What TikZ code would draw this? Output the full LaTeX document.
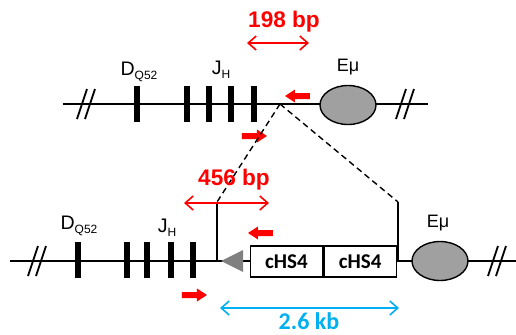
\documentclass[tikz,border=0pt]{standalone}
\usepackage{fontspec}
\setmainfont{Liberation Sans}
\newfontfamily\calibfont{Carlito}
\usetikzlibrary{shapes.geometric,arrows.meta,positioning}
\definecolor{PrimerRed}{RGB}{255,0,0}
\definecolor{SizeCyan}{RGB}{0,176,240}
\definecolor{EnhGray}{RGB}{160,160,160}
\definecolor{InsGray}{RGB}{128,128,128}
% gene segment label with subscript
\newcommand{\seglab}[2]{{\fontsize{9.8}{10}\selectfont #1}\raisebox{-1.8pt}{\fontsize{6}{6}\selectfont #2}}
% break mark on the backbone
\newcommand{\brkmark}[2]{\draw[line width=0.9pt] (#1-9,#2+15) -- (#1+1,#2-15) (#1-1,#2+15) -- (#1+9,#2-15);}
% primer arrow: tip x, tip y, direction (1 right, -1 left)
\newcommand{\primer}[3]{\fill[PrimerRed] (#1,#2) -- ++({-(#3)*10},-6.5) -- ++(0,3.5)
  -- ++({-(#3)*15},0) -- ++(0,6) -- ++({(#3)*15},0) -- ++(0,3.5) -- cycle;}

\begin{document}
\begin{tikzpicture}[x=0.5pt,y=-0.5pt,
  backbone/.style={line width=1.4pt},
  genetick/.style={fill=black,inner sep=0pt,minimum width=3pt,minimum height=18pt},
  enh/.style={ellipse,draw,fill=EnhGray,line width=0.7pt,minimum width=28pt,
              minimum height=19.5pt,inner sep=0pt},
  enhlab/.style={font=\fontsize{9}{10}\selectfont},
  sizearrow/.style={PrimerRed,line width=0.8pt,
                    {Straight Barb[length=4pt,width=7pt]}-{Straight Barb[length=4pt,width=7pt]}},
  sizelab/.style={text=PrimerRed,font=\fontsize{11.3}{12}\selectfont\bfseries},
  hsbox/.style={draw,fill=white,line width=0.6pt,minimum width=36.25pt,minimum height=15.5pt,
                inner sep=0pt,font=\calibfont\fontsize{10.5}{11}\selectfont\bfseries},
  joint/.style={line width=0.7pt},
  junction/.style={line width=0.7pt,dash pattern=on 3pt off 2pt},
]
\useasboundingbox (0,0) rectangle (516,334);

% top: endogenous locus
\coordinate (topL) at (63,104);
\coordinate (topR) at (428,104);
\coordinate (apex) at (280,104);
\draw[backbone] (topL) -- (topR);
\brkmark{86}{104}
\brkmark{405}{104}
\node[genetick] (dq) at (137,104) {};
\foreach \x [count=\i] in {187,209,231,254}
  \node[genetick] (jh\i) at (\x,104) {};
\node (dqlab) at (139,72) {\seglab{D}{Q52}};
\node (jhlab) at (221,70) {\seglab{J}{H}};
\node[enh] (emu) at (348,105) {};
\node[enhlab] (emulab) at (348,67) {Eμ};
\primer{285}{96}{-1}
\primer{267}{136}{1}
\coordinate (s1a) at (247,43);
\coordinate (s1b) at (309,43);
\draw[sizearrow] (s1a) -- (s1b);
\node[sizelab] (s1lab) at (284,22) {198 bp};

% bottom: insulated allele
\coordinate (botL) at (10,261);
\coordinate (botR) at (516,261);
\draw[backbone] (botL) -- (botR);
\brkmark{37}{261}
\brkmark{497}{261}
\node[genetick] (dqb) at (78,260) {};
\foreach \x [count=\i] in {127,147,171,193}
  \node[genetick] (jhb\i) at (\x,260) {};
\node (dqblab) at (79,226) {\seglab{D}{Q52}};
\node (jhblab) at (167,228) {\seglab{J}{H}};
\node[isosceles triangle,fill=InsGray,inner sep=0pt,minimum width=11pt,minimum height=11pt,
      isosceles triangle stretches,shape border rotate=180,anchor=apex] (ins) at (220,261) {};
\node[hsbox] (hs1) at (286.5,261.5) {cHS4};
\node[hsbox,right=0pt of hs1] (hs2) {cHS4};
\node[enh] (emub) at (440,261) {};
\node[enhlab] (emublab) at (438,223) {Eμ};

% junctions
\coordinate (jl) at (217,202);
\coordinate (jlb) at (217,261);
\coordinate (jr) at (398,202);
\coordinate (jrb) at (398,261);
\draw[joint] (jl) -- (jlb);
\draw[joint] (jr) -- (jrb);
\draw[junction] (apex) -- (jl);
\draw[junction] (apex) -- (jr);

\primer{248}{233}{-1}
\primer{207}{295}{1}
\coordinate (s2a) at (184,203);
\coordinate (s2b) at (269,203);
\draw[sizearrow] (s2a) -- (s2b);
\node[sizelab] (s2lab) at (234,180) {456 bp};

\coordinate (s3a) at (220,308);
\coordinate (s3b) at (399,308);
\draw[sizearrow,SizeCyan] (s3a) -- (s3b);
\node[text=SizeCyan,font=\calibfont\fontsize{12}{13}\selectfont\bfseries] (s3lab) at (309,321) {2.6 kb};
\end{tikzpicture}
\end{document}
